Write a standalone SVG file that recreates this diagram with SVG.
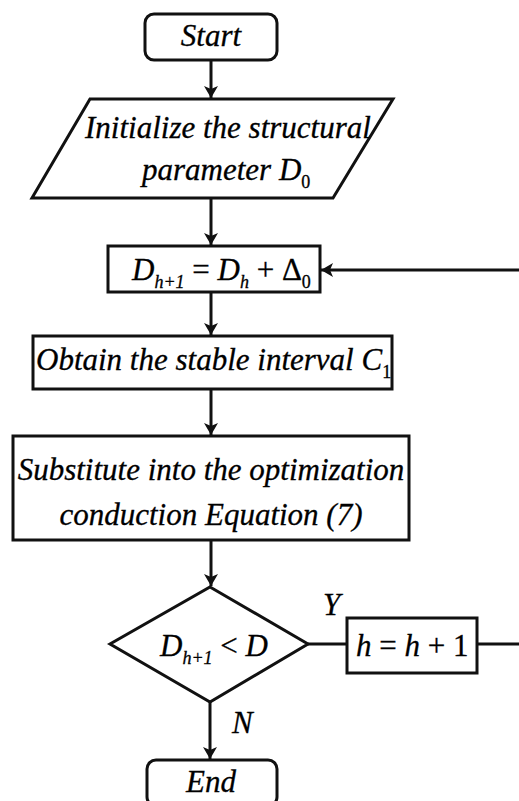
<svg xmlns="http://www.w3.org/2000/svg" width="519" height="801" viewBox="0 0 519 801">
<style>
.s{fill:#fff;stroke:#111;stroke-width:3}
.t{font-family:"Liberation Serif","Times New Roman",serif;font-style:italic;font-size:31px;fill:#000;stroke:#000;stroke-width:0.3}
.u{font-style:normal}
.c{fill:none;stroke:#111;stroke-width:3}
.sub{font-size:18px}
</style>
<defs>
<marker id="a" viewBox="0 0 12 16" refX="12" refY="8" markerWidth="12" markerHeight="16" markerUnits="userSpaceOnUse" orient="auto">
<path d="M0,1 L12,8 L0,15 L3,8 Z" fill="#111"/>
</marker>
</defs>
<g id="connectors">
<line class="c" x1="211" y1="60" x2="211" y2="98" marker-end="url(#a)"/>
<line class="c" x1="211" y1="198" x2="211" y2="245" marker-end="url(#a)"/>
<line class="c" x1="211" y1="292" x2="211" y2="335" marker-end="url(#a)"/>
<line class="c" x1="211" y1="389" x2="211" y2="435" marker-end="url(#a)"/>
<line class="c" x1="211" y1="540" x2="211" y2="586" marker-end="url(#a)"/>
<line class="c" x1="210" y1="702" x2="210" y2="759" marker-end="url(#a)"/>
<line class="c" x1="308" y1="644" x2="347" y2="644"/>
<line class="c" x1="477" y1="644" x2="519" y2="644"/>
<line class="c" x1="519" y1="270" x2="321" y2="270" marker-end="url(#a)"/>
<text class="t" x="323" y="615" font-size="28">Y</text>
<text class="t" x="232" y="733" font-size="28">N</text>
</g>
<g id="start">
<rect class="s" x="145" y="14" width="132" height="46" rx="9"/>
<text class="t" x="211" y="46" text-anchor="middle">Start</text>
</g>
<g id="init">
<polygon class="s" points="90,99 393,99 333,198 32,198"/>
<text class="t" x="85" y="138">Initialize the structural</text>
<text class="t" x="142" y="180">parameter D<tspan class="u sub" dy="8">0</tspan></text>
</g>
<g id="update">
<rect class="s" x="108" y="246" width="212" height="46"/>
<text class="t" x="132" y="280">D<tspan class="sub" dy="8">h+1</tspan><tspan class="u" dy="-8"> = </tspan>D<tspan class="sub" dy="8">h</tspan><tspan class="u" dy="-8"> + Δ</tspan><tspan class="u sub" dy="8">0</tspan></text>
</g>
<g id="obtain">
<rect class="s" x="33" y="336" width="359" height="53"/>
<text class="t" x="36" y="370">Obtain the stable interval C<tspan class="u sub" dy="8">1</tspan></text>
</g>
<g id="substitute">
<rect class="s" x="13" y="436" width="396" height="104"/>
<text class="t" x="211" y="480" text-anchor="middle">Substitute into the optimization</text>
<text class="t" x="211" y="525" text-anchor="middle">conduction Equation (7)</text>
</g>
<g id="decision">
<polygon class="s" points="210,587 308,644 210,702 110,644"/>
<text class="t" x="160" y="656">D<tspan class="sub" dy="8">h+1</tspan><tspan class="u" dy="-8"> &lt; </tspan>D</text>
</g>
<g id="increment">
<rect class="s" x="347" y="618" width="130" height="55"/>
<text class="t" x="356" y="656">h<tspan class="u"> = </tspan>h<tspan class="u"> + 1</tspan></text>
</g>
<g id="end">
<rect class="s" x="147" y="760" width="130" height="46" rx="9"/>
<text class="t" x="211" y="792" text-anchor="middle">End</text>
</g>
</svg>
